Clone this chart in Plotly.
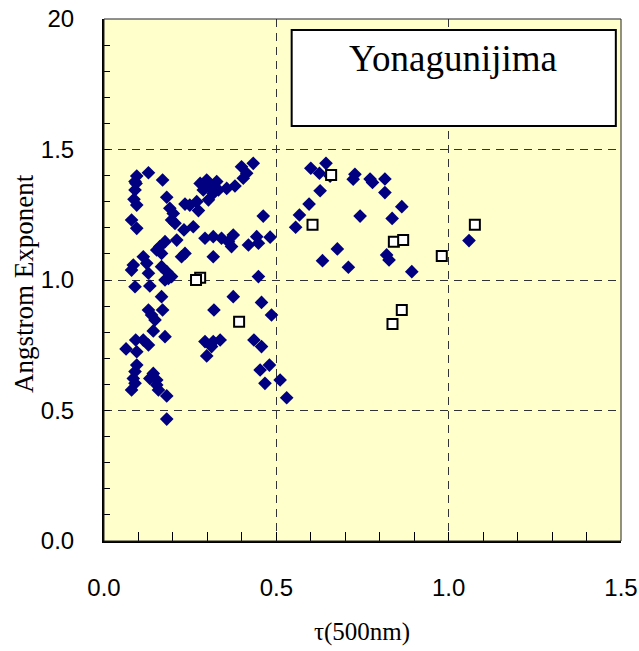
import plotly.graph_objects as go

# Blue diamonds: tau(500nm), Angstrom exponent
dia_x = [0.095, 0.090, 0.129, 0.093, 0.090, 0.087, 0.095, 0.170, 0.182, 0.080,
         0.095, 0.191, 0.201, 0.196, 0.206, 0.235, 0.249, 0.269, 0.274, 0.232,
         0.259, 0.462, 0.279, 0.298, 0.308, 0.327, 0.317, 0.332, 0.356, 0.380,
         0.303, 0.288, 0.399, 0.414, 0.433, 0.404, 0.293, 0.317, 0.341, 0.361,
         0.375, 0.370, 0.419, 0.443, 0.448, 0.482, 0.211, 0.162, 0.177, 0.153,
         0.167, 0.235, 0.225, 0.317, 0.114, 0.124, 0.085, 0.080, 0.129, 0.167,
         0.182, 0.187, 0.196, 0.177, 0.090, 0.133, 0.448,
         0.167, 0.375, 0.129, 0.138, 0.148, 0.170, 0.457, 0.486, 0.319, 0.143,
         0.177, 0.092, 0.064, 0.095, 0.114, 0.129, 0.293, 0.317, 0.337, 0.312,
         0.298, 0.435, 0.457, 0.095, 0.090, 0.085, 0.090, 0.080, 0.143, 0.133,
         0.153, 0.153, 0.158, 0.182, 0.480, 0.453, 0.467, 0.511, 0.530, 0.182,
         0.600, 0.625, 0.644, 0.656, 0.627, 0.595, 0.567, 0.556, 0.728, 0.723,
         0.772, 0.779, 0.815, 0.815, 0.864, 0.743, 0.836, 0.820, 0.827, 0.677,
         0.634, 0.709, 0.893, 1.059]
dia_y = [1.398, 1.377, 1.411, 1.370, 1.345, 1.309, 1.287, 1.383, 1.317, 1.230,
         1.198, 1.275, 1.255, 1.230, 1.217, 1.291, 1.287, 1.300, 1.266, 1.192,
         1.204, 1.245, 1.370, 1.383, 1.357, 1.377, 1.332, 1.345, 1.351, 1.360,
         1.307, 1.345, 1.434, 1.409, 1.447, 1.390, 1.160, 1.166, 1.160, 1.147,
         1.172, 1.128, 1.134, 1.166, 1.141, 1.164, 1.153, 1.128, 1.147, 1.115,
         1.102, 1.102, 1.089, 1.089, 1.089, 1.064, 1.057, 1.038, 1.026, 1.051,
         1.032, 1.006, 1.013, 1.000, 0.974, 0.977, 1.013,
         0.936, 0.936, 0.885, 0.866, 0.847, 0.885, 0.914, 0.866, 0.885, 0.805,
         0.783, 0.770, 0.736, 0.725, 0.770, 0.751, 0.764, 0.764, 0.770, 0.745,
         0.709, 0.770, 0.745, 0.674, 0.649, 0.623, 0.604, 0.579, 0.642, 0.623,
         0.617, 0.598, 0.579, 0.556, 0.674, 0.655, 0.604, 0.617, 0.549, 0.467,
         1.428, 1.409, 1.447, 1.398, 1.342, 1.291, 1.249, 1.202, 1.405, 1.386,
         1.387, 1.374, 1.387, 1.335, 1.281, 1.245, 1.236, 1.096, 1.077, 1.119,
         1.074, 1.049, 1.032, 1.151]

# Open squares
sq_x = [0.279, 0.267, 0.392, 0.659, 0.605, 0.841, 0.868, 0.980, 1.076, 0.864, 0.837]
sq_y = [1.009, 1.000, 0.840, 1.402, 1.212, 1.147, 1.153, 1.092, 1.212, 0.885, 0.831]

y_tickvals = [0.0, 0.5, 1.0, 1.5, 2.0]
y_ticktext = ["0.0", "0.5", "1.0", "1.5", "20"]
x_tickvals = [0.0, 0.5, 1.0, 1.5]
x_ticktext = ["0.0", "0.5", "1.0", "1.5"]

x_title = "τ(500nm)"
y_title = "Angstrom Exponent"
legend_title = "Yonagunijima"

fig = go.Figure()
fig.add_trace(go.Scatter(
    x=dia_x, y=dia_y, mode="markers",
    marker=dict(symbol="diamond", size=10.5, color="#000080", line=dict(width=0)),
    showlegend=False, cliponaxis=False))
fig.add_trace(go.Scatter(
    x=sq_x, y=sq_y, mode="markers",
    marker=dict(symbol="square", size=10, color="white", line=dict(width=2, color="black")),
    showlegend=False, cliponaxis=False))

tick_font = dict(family="Liberation Sans Narrow, Liberation Sans, Arial", size=24, color="black")
serif = "Liberation Serif, Times New Roman"

fig.update_xaxes(
    range=[0, 1.5], tickmode="array", tickvals=x_tickvals, ticktext=x_ticktext,
    ticks="inside", ticklen=9, tickwidth=1, tickcolor="black",
    minor=dict(dtick=0.1, tick0=0, ticks="inside", ticklen=9, tickwidth=1, tickcolor="black", showgrid=False),
    showgrid=True, gridcolor="#333333", gridwidth=1, griddash="8px,6px",
    showline=True, linecolor="black", linewidth=2,
    zeroline=False, tickfont=tick_font, ticklabelstandoff=24, ticklabeloverflow="allow")
fig.update_yaxes(
    range=[0, 2.0], tickmode="array", tickvals=y_tickvals, ticktext=y_ticktext,
    ticks="inside", ticklen=6, tickwidth=1, tickcolor="black",
    minor=dict(dtick=0.1, tick0=0, ticks="inside", ticklen=6, tickwidth=1, tickcolor="black", showgrid=False),
    showgrid=True, gridcolor="#333333", gridwidth=1, griddash="8px,6px",
    showline=True, linecolor="black", linewidth=2,
    zeroline=False, tickfont=tick_font, ticklabelstandoff=23, ticklabeloverflow="allow")

# axis titles
fig.add_annotation(xref="x domain", yref="y domain", x=0.499, y=-0.174, text=x_title,
                   showarrow=False, xanchor="center", yanchor="middle",
                   font=dict(family=serif, size=25, color="black"))
fig.add_annotation(xref="x domain", yref="y domain", x=-0.155, y=0.494, text=y_title,
                   showarrow=False, xanchor="center", yanchor="middle", textangle=-90,
                   font=dict(family=serif, size=27, color="black"))

fig.add_shape(type="rect", xref="x domain", yref="y domain", x0=0, x1=1, y0=0, y1=1,
              line=dict(color="#222222", width=1), layer="above")
# legend box
fig.add_shape(type="rect", xref="x domain", yref="y domain", x0=0.363, x1=0.99, y0=0.795, y1=0.979,
              line=dict(color="black", width=2), fillcolor="white", layer="above")
fig.add_annotation(xref="x domain", yref="y domain", x=0.676, y=0.925, text=legend_title,
                   showarrow=False, xanchor="center", yanchor="middle",
                   font=dict(family=serif, size=37, color="black"))

fig.update_layout(
    width=639, height=651,
    margin=dict(l=104, r=18, t=19, b=110, autoexpand=False),
    paper_bgcolor="white", plot_bgcolor="#FFFFCC",
    showlegend=False)

fig.write_html("out.html")
